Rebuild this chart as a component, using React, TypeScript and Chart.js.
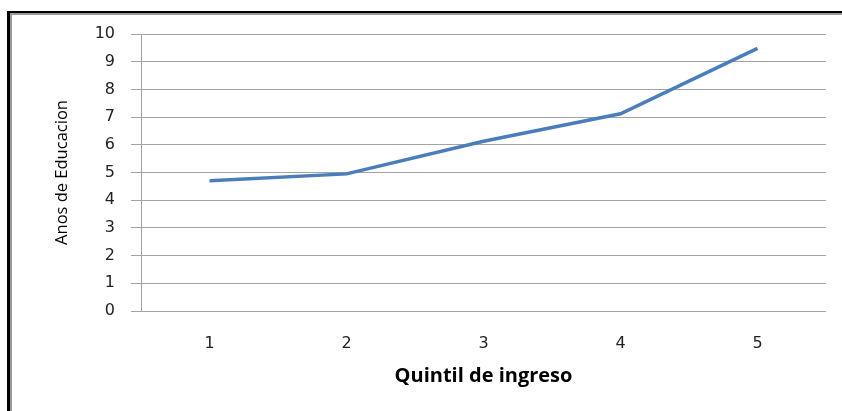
import React, { useEffect, useRef } from "react";
import { Chart, registerables } from "chart.js";

Chart.register(...registerables);

const quintiles = ["1", "2", "3", "4", "5"];
const educationYears = [4.7, 4.95, 6.13, 7.12, 9.48];
const yTitle = "Anos de Educacion";
const xTitle = "Quintil de ingreso";

export default function App() {
  const canvasRef = useRef<HTMLCanvasElement | null>(null);

  useEffect(() => {
    if (!canvasRef.current) return;
    const gridColor = "#a3a3a3";
    const chart = new Chart(canvasRef.current, {
      type: "line",
      data: {
        labels: quintiles,
        datasets: [
          {
            data: educationYears,
            borderColor: "#4a7ebb",
            backgroundColor: "#4a7ebb",
            borderWidth: 3.5,
            pointRadius: 0,
            tension: 0,
            fill: false,
          },
        ],
      },
      options: {
        animation: false,
        responsive: false,
        maintainAspectRatio: false,
        layout: { padding: { left: 0, top: 34, right: 16, bottom: 0 } },
        plugins: { legend: { display: false }, tooltip: { enabled: false } },
        scales: {
          x: {
            offset: true,
            grid: { display: false, drawTicks: false },
            border: { display: false },
            ticks: {
              padding: 23,
              color: "#222",
              font: { family: "DejaVu Sans", size: 16 },
            },
            title: {
              display: true,
              text: xTitle,
              color: "#000",
              font: { family: "Open Sans", size: 20, weight: "bold" },
              padding: { top: 0, bottom: 23 },
            },
            afterFit: (s: any) => {
              s.height = 100;
            },
          },
          y: {
            min: 0,
            max: 10,
            ticks: {
              stepSize: 1,
              padding: 16,
              color: "#222",
              font: { family: "DejaVu Sans", size: 16 },
            },
            grid: { color: gridColor, lineWidth: 1, tickLength: 10, tickColor: gridColor },
            border: { display: true, color: gridColor, width: 1 },
            title: {
              display: true,
              text: yTitle,
              color: "#000",
              font: { family: "Open Sans", size: 16.5 },
              padding: { top: 52, bottom: 0 },
            },
            afterFit: (s: any) => {
              s.width = 141;
            },
          },
        },
      },
    });
    return () => chart.destroy();
  }, []);

  return (
    <div style={{ position: "fixed", left: 0, top: 0, width: 842, height: 411, background: "#fff", overflow: "hidden" }}>
      <div
        style={{
          position: "absolute",
          left: 7,
          top: 11,
          width: 900,
          height: 500,
          borderLeft: "3px solid #000",
          borderTop: "2px solid #000",
        }}
      />
      <div
        style={{
          position: "absolute",
          left: 10,
          top: 13,
          width: 900,
          height: 500,
          borderLeft: "2px solid #9a9a9a",
          borderTop: "2px solid #9a9a9a",
        }}
      />
      <canvas ref={canvasRef} width={842} height={411} style={{ position: "absolute", left: 0, top: 0 }} />
    </div>
  );
}
